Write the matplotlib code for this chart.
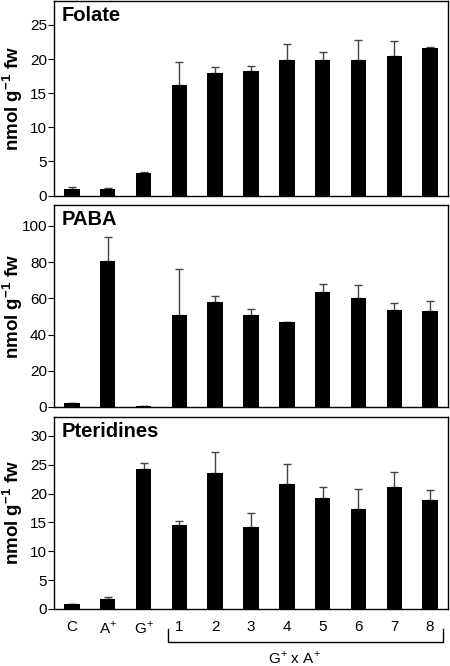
import matplotlib.pyplot as plt
import numpy as np

plt.rcParams['font.family'] = ['Liberation Sans', 'DejaVu Sans']
plt.rcParams['mathtext.fontset'] = 'custom'
plt.rcParams['mathtext.rm'] = 'Liberation Sans'
plt.rcParams['mathtext.bf'] = 'Liberation Sans:bold'

# data
cats = ['C', 'A$^{+}$', 'G$^{+}$', '1', '2', '3', '4', '5', '6', '7', '8']
folate = [1.0, 1.0, 3.3, 16.2, 17.9, 18.2, 19.8, 19.8, 19.8, 20.4, 21.6]
folate_err = [0.25, 0.05, 0.1, 3.4, 0.9, 0.8, 2.4, 1.3, 3.0, 2.2, 0.1]
paba = [2.0, 80.7, 0.3, 50.8, 58.0, 50.6, 46.8, 63.4, 60.4, 53.8, 53.2]
paba_err = [0.3, 13.1, 0.0, 25.2, 3.5, 3.4, 0.0, 4.6, 7.2, 3.5, 5.2]
pter = [0.8, 1.7, 24.2, 14.5, 23.5, 14.2, 21.7, 19.2, 17.35, 21.05, 18.8]
pter_err = [0.1, 0.4, 1.1, 0.7, 3.7, 2.4, 3.4, 1.9, 3.45, 2.6, 1.8]

titles = ['Folate', 'PABA', 'Pteridines']
ylims = [28.5, 111.5, 33.3]
yticks = [np.arange(0, 26, 5), np.arange(0, 101, 20), np.arange(0, 31, 5)]

fig = plt.figure(figsize=(4.5, 6.66), dpi=100)
# [left, bottom, width, height]
rects = [[0.12, 0.7063, 0.8756, 0.2922],
         [0.12, 0.3889, 0.8756, 0.3033],
         [0.12, 0.0856, 0.8756, 0.2887]]

x = np.arange(len(cats))
series = [(folate, folate_err), (paba, paba_err), (pter, pter_err)]
axes = []
for i in range(3):
    ax = fig.add_axes(rects[i])
    vals, errs = series[i]
    ax.bar(x, vals, width=0.43, color='black', zorder=2)
    ax.errorbar(x, vals, yerr=[np.zeros(len(errs)), errs], fmt='none',
                ecolor='#444444', elinewidth=1, capsize=3, capthick=1, zorder=1)
    ax.set_xlim(-0.5, 10.5)
    ax.set_ylim(0, ylims[i])
    ax.set_yticks(yticks[i])
    ax.tick_params(axis='y', direction='out', length=4, labelsize=11, pad=1)
    ax.tick_params(axis='x', length=0)
    for s in ax.spines.values():
        s.set_linewidth(1)
    ax.text(0.02, 0.975, titles[i], transform=ax.transAxes, fontsize=14.5,
            fontweight='bold', va='top', ha='left')
    ax.set_ylabel('nmol g$^{\\mathbf{-1}}$ fw', fontsize=13.5, fontweight='bold',
                  va='center')
    ax.yaxis.set_label_coords(-0.105, 0.5)
    if i < 2:
        ax.set_xticks([])
    else:
        ax.set_xticks(x)
        ax.set_xticklabels(cats, fontsize=11)
        ax.tick_params(axis='x', pad=8)
    axes.append(ax)

# bracket under crosses 1-8
ax = axes[2]
trans = ax.get_xaxis_transform()
yb = -0.172
ax.plot([2.67, 2.67, 10.36, 10.36], [-0.104, yb, yb, -0.104], color='black',
        lw=1, transform=trans, clip_on=False)
ax.text(6.2, -0.212, 'G$^{+}$ x A$^{+}$', transform=trans, ha='center',
        va='top', fontsize=11)

fig.savefig('out.png', dpi=100)
